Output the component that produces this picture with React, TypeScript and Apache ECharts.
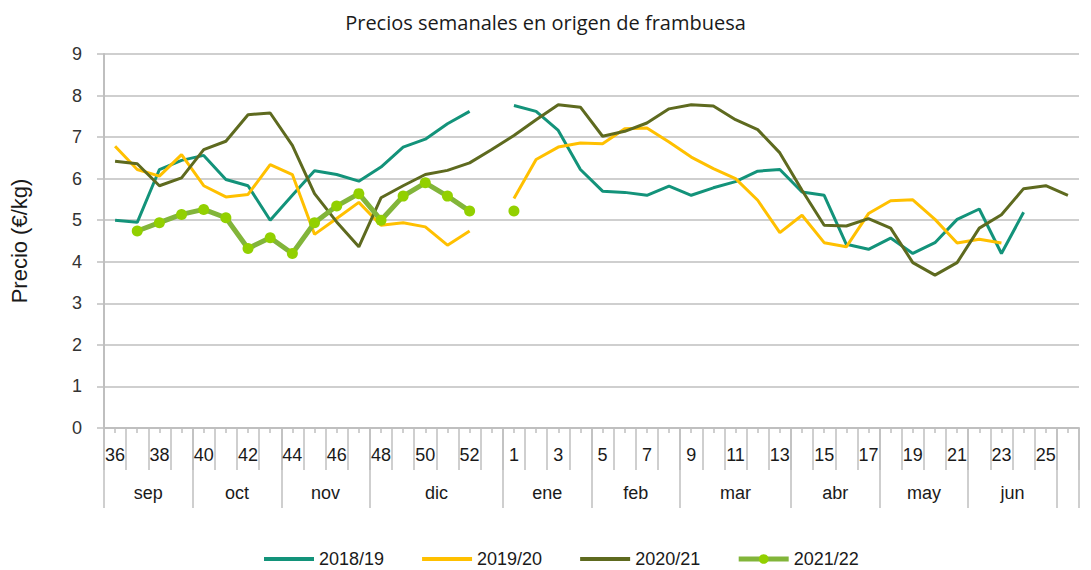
import React, { useEffect, useRef } from "react";
import * as echarts from "echarts";

const weeks: string[] = [
  "36", "37", "38", "39", "40", "41", "42", "43", "44", "45", "46", "47", "48", "49", "50", "51", "52", "",
  "1", "2", "3", "4", "5", "6", "7", "8", "9", "10", "11", "12", "13", "14", "15", "16", "17", "18", "19", "20",
  "21", "22", "23", "24", "25", "26",
];

const monthNames = ["sep", "oct", "nov", "dic", "ene", "feb", "mar", "abr", "may", "jun"];
// boundaries (in week slots) between month groups
const monthBounds = [0, 4, 8, 12, 18, 22, 26, 31, 35, 39, 43, 44];

const s2018: (number | null)[] = [
  5.0, 4.95, 6.22, 6.44, 6.56, 5.98, 5.83, 5.0, 5.6, 6.19, 6.1, 5.94, 6.28, 6.76, 6.95, 7.32, 7.62, null,
  7.76, 7.62, 7.16, 6.22, 5.7, 5.67, 5.6, 5.82, 5.6, 5.78, 5.93, 6.18, 6.22, 5.68, 5.6, 4.42, 4.3, 4.57, 4.2,
  4.46, 5.02, 5.27, 4.2, 5.19, null, null,
];
const s2019: (number | null)[] = [
  6.78, 6.22, 6.06, 6.58, 5.83, 5.56, 5.62, 6.34, 6.1, 4.66, 5.04, 5.43, 4.88, 4.94, 4.84, 4.4, 4.74, null,
  5.52, 6.46, 6.76, 6.86, 6.84, 7.2, 7.22, 6.88, 6.52, 6.24, 6.0, 5.48, 4.7, 5.12, 4.46, 4.36, 5.16, 5.47, 5.49,
  5.02, 4.45, 4.54, 4.45, null, null, null,
];
const s2020: (number | null)[] = [
  6.42, 6.36, 5.83, 6.02, 6.7, 6.9, 7.54, 7.58, 6.8, 5.64, 4.96, 4.36, 5.54, 5.83, 6.1, 6.2, 6.38, 6.7,
  7.04, 7.42, 7.78, 7.72, 7.02, 7.14, 7.34, 7.68, 7.78, 7.75, 7.42, 7.18, 6.62, 5.72, 4.88, 4.86, 5.04, 4.81,
  3.98, 3.68, 3.98, 4.81, 5.13, 5.76, 5.83, 5.6,
];
const s2021: (number | null)[] = [
  null, 4.74, 4.94, 5.14, 5.26, 5.06, 4.32, 4.58, 4.2, 4.94, 5.34, 5.64, 5.0, 5.58, 5.9, 5.58, 5.22, null,
  5.22, null, null, null, null, null, null, null, null, null, null, null, null, null, null, null, null, null,
  null, null, null, null, null, null, null, null,
];

const seriesNames = ["2018/19", "2019/20", "2020/21", "2021/22"];
const yTicks = [0, 9, 1];

const FONT = "'Liberation Sans', Arial, sans-serif";
const GRAY = "#BFBFBF";
const TXT = "#1a1a1a";

export default function App() {
  const ref = useRef<HTMLDivElement>(null);

  useEffect(() => {
    document.body.style.margin = "0";
    if (!ref.current) return;
    const chart = echarts.init(ref.current, null, { renderer: "svg" });
    const monthCenters = monthNames.map((_, i) => (monthBounds[i] + monthBounds[i + 1]) / 2);
    const hiddenSym = { color: "rgba(0,0,0,0)", opacity: 0, borderWidth: 0 };

    const option: any = {
      animation: false,
      backgroundColor: "#ffffff",
      title: {
        text: "Precios semanales en origen de frambuesa",
        left: "center",
        top: 7,
        textStyle: { fontFamily: "'Open Sans', sans-serif", fontSize: 20, fontWeight: "normal", color: TXT },
      },
      legend: {
        top: 550,
        left: 262,
        padding: 0,
        itemWidth: 50,
        itemHeight: 12,
        itemGap: 36,
        textStyle: { fontFamily: FONT, fontSize: 18, color: TXT },
        data: [
          { name: seriesNames[0], itemStyle: hiddenSym, lineStyle: { width: 4 } },
          { name: seriesNames[1], itemStyle: hiddenSym, lineStyle: { width: 4 } },
          { name: seriesNames[2], itemStyle: hiddenSym, lineStyle: { width: 4 } },
          { name: seriesNames[3], lineStyle: { width: 5 } },
        ],
      },
      grid: { left: 104, right: 12, top: 54, bottom: 142 },
      xAxis: [
        {
          type: "category",
          data: weeks,
          boundaryGap: true,
          axisLine: { show: true, lineStyle: { color: GRAY, width: 2 } },
          axisTick: { show: true, interval: 0, length: 42, lineStyle: { color: GRAY, width: 1.5 } },
          axisLabel: { interval: 1, margin: 18, fontFamily: FONT, fontSize: 18, color: TXT },
          splitLine: { show: false },
        },
        {
          type: "category",
          data: weeks,
          position: "bottom",
          boundaryGap: true,
          axisLine: { show: false },
          axisTick: { show: true, interval: 0, alignWithLabel: true, length: 5, lineStyle: { color: GRAY, width: 1.5 } },
          axisLabel: { show: false },
          splitLine: { show: false },
        },
        {
          type: "value",
          position: "bottom",
          min: 0,
          max: weeks.length,
          axisLine: { show: false },
          splitLine: { show: false },
          axisTick: { show: true, customValues: monthBounds, length: 80, lineStyle: { color: GRAY, width: 1.5 } },
          axisLabel: {
            customValues: monthCenters,
            margin: 56,
            fontFamily: FONT,
            fontSize: 18,
            color: TXT,
            formatter: (v: number) => {
              const i = monthCenters.findIndex((c) => Math.abs(c - v) < 0.01);
              return i >= 0 ? monthNames[i] : "";
            },
          },
        },
      ],
      yAxis: {
        type: "value",
        min: yTicks[0],
        max: yTicks[1],
        interval: yTicks[2],
        name: "Precio (€/kg)",
        nameLocation: "middle",
        nameRotate: 90,
        nameGap: 74,
        nameTextStyle: { fontFamily: FONT, fontSize: 22, color: TXT },
        axisLine: { show: true, lineStyle: { color: GRAY, width: 2 } },
        axisTick: { show: true, length: 7, lineStyle: { color: GRAY, width: 1.5 } },
        axisLabel: { margin: 22, fontFamily: FONT, fontSize: 18, color: "#333" },
        splitLine: { show: true, lineStyle: { color: GRAY, width: 1.5 } },
      },
      series: [
        {
          name: seriesNames[0],
          type: "line",
          data: s2018,
          symbol: "none",
          connectNulls: false,
          color: "#13937A",
          lineStyle: { width: 3, color: "#13937A" },
        },
        {
          name: seriesNames[1],
          type: "line",
          data: s2019,
          symbol: "none",
          connectNulls: false,
          color: "#FFC000",
          lineStyle: { width: 3, color: "#FFC000" },
        },
        {
          name: seriesNames[2],
          type: "line",
          data: s2020,
          symbol: "none",
          connectNulls: false,
          color: "#5E6A1F",
          lineStyle: { width: 3, color: "#5E6A1F" },
        },
        {
          name: seriesNames[3],
          type: "line",
          data: s2021,
          symbol: "circle",
          symbolSize: 11,
          showSymbol: true,
          connectNulls: false,
          color: "#92D000",
          itemStyle: { color: "#92D000", borderWidth: 0 },
          lineStyle: { width: 5, color: "#82B53A" },
        },
      ],
    };
    chart.setOption(option);
    return () => chart.dispose();
  }, []);

  return <div ref={ref} style={{ width: 1091, height: 570 }} />;
}
